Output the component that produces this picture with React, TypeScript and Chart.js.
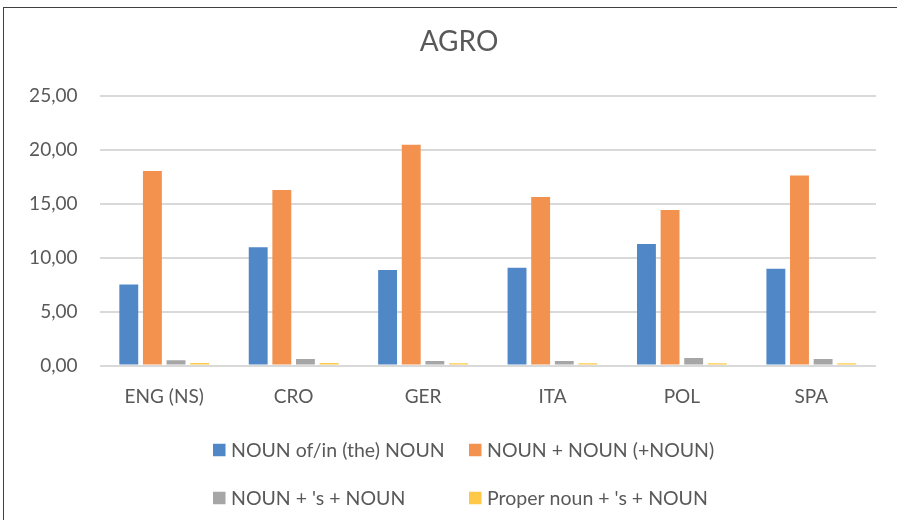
import React, { useEffect, useRef } from "react";
import { Chart, registerables } from "chart.js";

Chart.register(...registerables);

const categories = ["ENG (NS)", "CRO", "GER", "ITA", "POL", "SPA"];
const seriesLabels = [
  "NOUN of/in (the) NOUN",
  "NOUN + NOUN (+NOUN)",
  "NOUN + 's + NOUN",
  "Proper noun + 's + NOUN",
];
const nounOfNoun = [7.5, 10.95, 8.85, 9.05, 11.25, 8.95];
const nounNoun = [18.0, 16.25, 20.45, 15.6, 14.4, 17.6];
const nounSNoun = [0.48, 0.6, 0.42, 0.42, 0.69, 0.6];
const properSNoun = [0.23, 0.23, 0.2, 0.2, 0.2, 0.2];
const yTicks = [0, 5, 10, 15, 20, 25];
const chartTitle = "AGRO";

const colors = ["#5087C7", "#F3914F", "#A6A6A6", "#FFC846"];
const FONT = "Lato";
const TEXT = "#595959";

const overlayPlugin = {
  id: "overlayText",
  afterDraw(chart: any) {
    const ctx = chart.ctx;
    ctx.save();
    ctx.fillStyle = TEXT;
    ctx.textAlign = "center";
    ctx.textBaseline = "middle";
    ctx.font = `28px ${FONT}`;
    ctx.fillText(chartTitle, 459, 42);

    const colX = [213, 469];
    const rowY = [450, 498];
    const box = 12.5;
    chart.data.datasets.forEach((ds: any, i: number) => {
      const cx = colX[i % 2];
      const cy = rowY[Math.floor(i / 2)];
      ctx.fillStyle = ds.backgroundColor;
      ctx.fillRect(cx, cy - box / 2, box, box);
      ctx.fillStyle = TEXT;
      ctx.textAlign = "left";
      ctx.textBaseline = "middle";
      ctx.font = `19.5px ${FONT}`;
      ctx.fillText(ds.label, cx + 18, cy + 1);
    });
    ctx.restore();
  },
};

export default function App() {
  const ref = useRef<HTMLCanvasElement | null>(null);

  useEffect(() => {
    if (!ref.current) return;
    const data = [nounOfNoun, nounNoun, nounSNoun, properSNoun];
    const chart = new Chart(ref.current, {
      type: "bar",
      data: {
        labels: categories,
        datasets: data.map((d, i) => ({
          label: seriesLabels[i],
          data: d,
          backgroundColor: colors[i],
          borderWidth: 0,
          categoryPercentage: 0.73,
          barPercentage: 0.8,
        })),
      },
      options: {
        responsive: false,
        animation: false,
        devicePixelRatio: 1,
        layout: {
          padding: { left: 0, right: 21, top: 95.5, bottom: 94.5 },
        },
        plugins: {
          legend: { display: false },
          title: { display: false },
          tooltip: { enabled: false },
        },
        scales: {
          x: {
            grid: { display: false, drawTicks: false },
            border: { display: false },
            ticks: {
              color: TEXT,
              font: { family: FONT, size: 19 },
              padding: 20,
              maxRotation: 0,
            },
            afterFit(scale: any) {
              scale.height = 60;
            },
          },
          y: {
            min: 0,
            max: 25,
            afterBuildTicks(scale: any) {
              scale.ticks = yTicks.map((v) => ({ value: v }));
            },
            grid: { color: "#D9D9D9", lineWidth: 2, drawTicks: false },
            border: { display: false },
            ticks: {
              color: TEXT,
              font: { family: FONT, size: 19 },
              padding: 22,
              callback: (v: any) => Number(v).toFixed(2).replace(".", ","),
            },
            afterFit(scale: any) {
              scale.width = 99.5;
            },
          },
        },
      },
      plugins: [overlayPlugin],
    });
    return () => chart.destroy();
  }, []);

  return (
    <div style={{ position: "absolute", left: 0, top: 0, width: 897, height: 520, background: "#fff" }}>
      <div
        style={{
          position: "absolute",
          left: 3,
          top: 7,
          width: 894,
          height: 513,
          borderTop: "1.5px solid #404040",
          borderLeft: "1.5px solid #404040",
          boxSizing: "border-box",
        }}
      />
      <canvas
        ref={ref}
        width={897}
        height={520}
        style={{ position: "absolute", left: 0, top: 0, width: 897, height: 520 }}
      />
    </div>
  );
}
